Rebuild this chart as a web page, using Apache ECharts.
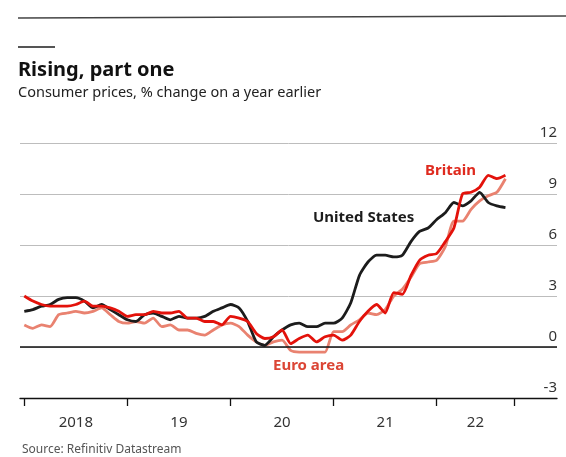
<!DOCTYPE html>
<html>
<head>
<meta charset="utf-8">
<script src="https://cdn.jsdelivr.net/npm/echarts@6/dist/echarts.min.js"></script>
<style>
  html, body { margin: 0; padding: 0; background: #fff; }
  #chart { width: 566px; height: 457px; }
</style>
</head>
<body>
<div id="chart"></div>
<script>
// monthly, Jan 2018 = 0 ... Sep 2022 = 56
var unitedStates = [
  2.1, 2.2, 2.4, 2.5, 2.8, 2.9, 2.9, 2.7, 2.3, 2.5, 2.2, 1.9,
  1.6, 1.5, 1.9, 2.0, 1.8, 1.6, 1.8, 1.7, 1.7, 1.8, 2.1, 2.3,
  2.5, 2.3, 1.5, 0.3, 0.1, 0.6, 1.0, 1.3, 1.4, 1.2, 1.2, 1.4,
  1.4, 1.7, 2.6, 4.2, 5.0, 5.4, 5.4, 5.3, 5.4, 6.2, 6.8, 7.0,
  7.5, 7.9, 8.5, 8.3, 8.6, 9.1, 8.5, 8.3, 8.2
];
var britain = [
  3.0, 2.7, 2.5, 2.4, 2.4, 2.4, 2.5, 2.7, 2.4, 2.4, 2.3, 2.1,
  1.8, 1.9, 1.9, 2.1, 2.0, 2.0, 2.1, 1.7, 1.7, 1.5, 1.5, 1.3,
  1.8, 1.7, 1.5, 0.8, 0.5, 0.6, 1.0, 0.2, 0.5, 0.7, 0.3, 0.6,
  0.7, 0.4, 0.7, 1.5, 2.1, 2.5, 2.0, 3.2, 3.1, 4.2, 5.1, 5.4,
  5.5, 6.2, 7.0, 9.0, 9.1, 9.4, 10.1, 9.9, 10.1
];
var euroArea = [
  1.3, 1.1, 1.3, 1.2, 1.9, 2.0, 2.1, 2.0, 2.1, 2.3, 1.9, 1.5,
  1.4, 1.5, 1.4, 1.7, 1.2, 1.3, 1.0, 1.0, 0.8, 0.7, 1.0, 1.3,
  1.4, 1.2, 0.7, 0.3, 0.1, 0.3, 0.4, -0.2, -0.3, -0.3, -0.3, -0.3,
  0.9, 0.9, 1.3, 1.6, 2.0, 1.9, 2.2, 3.0, 3.4, 4.1, 4.9, 5.0,
  5.1, 5.9, 7.4, 7.4, 8.1, 8.6, 8.9, 9.1, 9.9
];
var xTickValues = [0, 12, 24, 36, 48, 57];
var xLabelValues = [6, 18, 30, 42, 52.5];
var xLabelNames = ['2018', '19', '20', '21', '22'];

function toPoints(arr) {
  return arr.map(function (v, i) { return [i, v]; });
}

var chart = echarts.init(document.getElementById('chart'));

var option = {
  backgroundColor: '#ffffff',
  animation: false,
  grid: { left: 20, right: 9, top: 143, bottom: 59, containLabel: false },
  xAxis: {
    type: 'value',
    min: -0.5,
    max: 62,
    splitLine: { show: false },
    axisLine: { show: true, onZero: false, lineStyle: { color: '#111', width: 1.3 } },
    axisTick: { show: true, customValues: xTickValues, length: 8, lineStyle: { color: '#111', width: 1.3 } },
    axisLabel: {
      customValues: xLabelValues,
      margin: 17,
      fontFamily: 'Noto Sans',
      fontSize: 15,
      color: '#333',
      formatter: function (v) {
        var k = xLabelValues.indexOf(v);
        return k >= 0 ? xLabelNames[k] : '';
      }
    }
  },
  yAxis: {
    type: 'value',
    position: 'right',
    min: -3,
    max: 12,
    interval: 3,
    axisLine: { show: false },
    axisTick: { show: false },
    splitLine: { lineStyle: { color: '#bdbdbd', width: 1 } },
    axisLabel: {
      inside: true,
      margin: 0,
      verticalAlign: 'bottom',
      padding: [0, 0, 3, 0],
      fontFamily: 'Noto Sans',
      fontSize: 15,
      color: '#333'
    }
  },
  series: [
    {
      name: 'Euro area',
      type: 'line',
      data: toPoints(euroArea),
      showSymbol: false,
      smooth: 0.2,
      lineStyle: { color: '#e98270', width: 2.8 },
      markLine: {
        silent: true,
        symbol: 'none',
        label: { show: false },
        lineStyle: { color: '#111', width: 1.6, type: 'solid' },
        data: [{ yAxis: 0 }]
      },
      z: 2
    },
    {
      name: 'United States',
      type: 'line',
      data: toPoints(unitedStates),
      showSymbol: false,
      smooth: 0.2,
      lineStyle: { color: '#1c1c1c', width: 2.8 },
      z: 3
    },
    {
      name: 'Britain',
      type: 'line',
      data: toPoints(britain),
      showSymbol: false,
      smooth: 0.2,
      lineStyle: { color: '#e3120b', width: 2.8 },
      z: 4
    }
  ],
  graphic: [
    { type: 'line', shape: { x1: 18, y1: 18, x2: 566, y2: 16 }, style: { stroke: '#444', lineWidth: 1.5 } },
    { type: 'line', shape: { x1: 18, y1: 47, x2: 55, y2: 47 }, style: { stroke: '#555', lineWidth: 2 } },
    { type: 'text', left: 18, top: 60, style: { text: 'Rising, part one', font: 'bold 20px "Noto Sans"', fill: '#111' } },
    { type: 'text', left: 18, top: 85, style: { text: 'Consumer prices, % change on a year earlier', font: '14.5px "Noto Sans"', fill: '#222' } },
    { type: 'text', left: 313, top: 210, style: { text: 'United States', font: 'bold 15px "Noto Sans"', fill: '#1c1c1c' } },
    { type: 'text', left: 425, top: 163, style: { text: 'Britain', font: 'bold 15px "Noto Sans"', fill: '#df2a1e' } },
    { type: 'text', left: 273, top: 358, style: { text: 'Euro area', font: 'bold 15px "Noto Sans"', fill: '#db4535' } },
    { type: 'text', left: 22, top: 444, style: { text: 'Source: Refinitiv Datastream', font: '12px "Noto Sans"', fill: '#555' } }
  ]
};

chart.setOption(option);
</script>
</body>
</html>
